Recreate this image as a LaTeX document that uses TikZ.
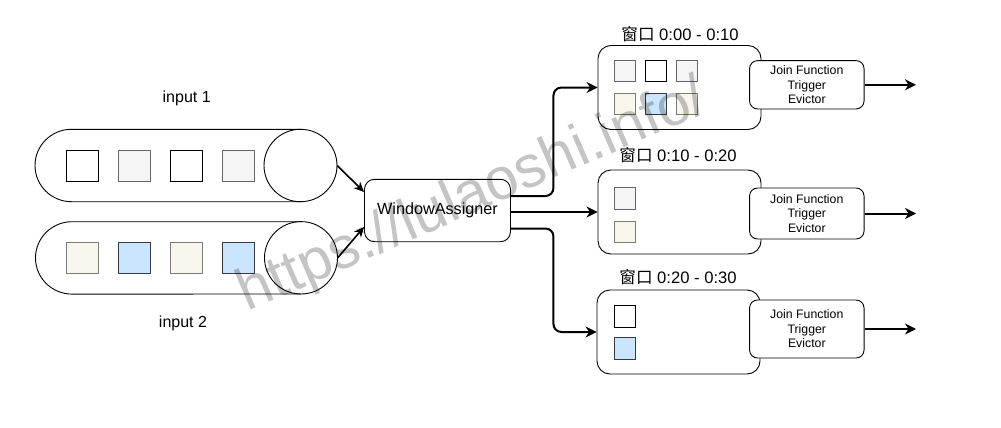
\documentclass[tikz,border=0pt]{standalone}
\usepackage{fontspec}
\setmainfont{Liberation Sans}
\newfontfamily\cjk{Noto Sans CJK SC}
\usetikzlibrary{arrows.meta,calc}
\definecolor{grayfill}{HTML}{F5F5F5}
\definecolor{graydraw}{HTML}{666666}
\definecolor{beigefill}{HTML}{F9F7ED}
\definecolor{beigedraw}{HTML}{7A7A7A}
\definecolor{bluefill}{HTML}{CCE5FF}
\definecolor{bluedraw}{HTML}{36393D}
\tikzset{
  bigsq/.style={draw, minimum width=32pt, minimum height=31pt, inner sep=0pt, line width=0.9pt},
  smallsq/.style={draw, minimum width=21.5pt, minimum height=21.5pt, inner sep=0pt, line width=0.9pt},
  wsq/.style={fill=white, draw=black},
  gsq/.style={fill=grayfill, draw=graydraw},
  esq/.style={fill=beigefill, draw=beigedraw},
  lsq/.style={fill=bluefill, draw=bluedraw},
  cylbox/.style={draw=none, minimum width=302pt, minimum height=72.4pt, inner sep=0pt},
  cylline/.style={line width=0.9pt},
  wabox/.style={draw, rounded corners=10pt, line width=0.9pt, minimum width=146pt, minimum height=62.4pt, inner sep=0pt, font=\fontsize{16.2}{19}\selectfont},
  winbox/.style={draw, rounded corners=13pt, line width=0.9pt, minimum width=163pt, minimum height=84pt, inner sep=0pt},
  joinbox/.style={draw, fill=white, rounded corners=8pt, line width=0.9pt, minimum width=114.5pt, inner sep=0pt, align=center, font=\fontsize{12.3}{14.5}\selectfont},
  lbl/.style={inner sep=0pt, font=\fontsize{16}{19}\selectfont},
  winlbl/.style={inner sep=0pt, font=\fontsize{16.6}{19}\selectfont},
  arr/.style={-{Stealth[length=11pt,width=11pt,inset=3.5pt]}, line width=2pt},
  inarr/.style={-{Stealth[length=10pt,width=9pt,inset=3pt]}, line width=1.6pt},
  wmark/.style={inner sep=0pt, text=black, text opacity=0.23, font=\fontsize{59}{60}\selectfont}
}
\begin{document}
\begin{tikzpicture}[x=1pt,y=-1pt]
\useasboundingbox (0,0) rectangle (1001,428);
\fill[white] (0,0) rectangle (1001,428);

% input cylinders
\node[cylbox] (cyl1) at (186,165.5) {};
\draw[cylline] (300.5,129.3) -- (71.5,129.3) arc[start angle=90,end angle=270,x radius=36.5pt,y radius=36.2pt] -- (300.5,201.7);
\draw[cylline] (300.5,165.5) ellipse [x radius=36.5pt, y radius=36.2pt];
\node[bigsq,wsq] (a1) at (82,165.5) {};
\node[bigsq,gsq] (a2) at (134,165.5) {};
\node[bigsq,wsq] (a3) at (186,165.5) {};
\node[bigsq,gsq] (a4) at (238,165.5) {};

\node[cylbox] (cyl2) at (186.5,257.8) {};
\draw[cylline] (301,221.7) -- (72,221.7) arc[start angle=90,end angle=270,x radius=36.5pt,y radius=36.2pt] -- (301,294);
\draw[cylline] (301,257.8) ellipse [x radius=36.5pt, y radius=36.2pt];
\node[bigsq,esq] (b1) at (82,257.7) {};
\node[bigsq,lsq] (b2) at (134,257.7) {};
\node[bigsq,esq] (b3) at (186,257.7) {};
\node[bigsq,lsq] (b4) at (238,257.7) {};

\node[lbl] (in1) at (186.7,98) {input 1};
\node[lbl] (in2) at (183,323) {input 2};

% window assigner
\node[wabox] (wa) at (437.5,210.5) {WindowAssigner};

% windows
\node[winbox] (win1) at (679.5,87.5) {};
\node[winbox] (win2) at (679.5,212) {};
\node[winbox] (win3) at (678.5,332) {};

\node[winlbl] (l1) at (680,34) {{\cjk 窗口} 0:00 - 0:10};
\node[winlbl] (l2) at (678,155.5) {{\cjk 窗口} 0:10 - 0:20};
\node[winlbl] (l3) at (678,277) {{\cjk 窗口} 0:20 - 0:30};

% window contents
\node[smallsq,gsq] (w11) at (624.8,71) {};
\node[smallsq,wsq] (w12) at (655.8,71) {};
\node[smallsq,gsq] (w13) at (686.8,71) {};
\node[smallsq,esq] (w14) at (624.8,104) {};
\node[smallsq,lsq] (w15) at (655.8,104) {};
\node[smallsq,esq] (w16) at (686.8,104) {};

\node[smallsq,gsq] (w21) at (624.8,198.5) {};
\node[smallsq,esq] (w22) at (624.8,232) {};

\node[smallsq,wsq] (w31) at (624.8,316.4) {};
\node[smallsq,lsq] (w32) at (624.8,348.5) {};

% join boxes
\node[joinbox, minimum height=48.3pt] (j1) at (806.8,84.8) {Join Function\\Trigger\\Evictor};
\node[joinbox, minimum height=51pt] (j2) at (806.8,213.5) {Join Function\\Trigger\\Evictor};
\node[joinbox, minimum height=58pt] (j3) at (806.8,329) {Join Function\\Trigger\\Evictor};

\coordinate (o1) at (916,84);
\coordinate (o2) at (916,212.5);
\coordinate (o3) at (916,331.5);

% connectors
\draw[inarr] (cyl1.east) -- ($(wa.west)+(0,-18.5)$);
\draw[inarr] (cyl2.east) -- ($(wa.west)+(0,16.5)$);

\draw[arr, rounded corners=8pt] ($(wa.east)+(0,-14.5)$) -- ++(42.5,0) |- (win1.west);
\draw[arr] ($(wa.east)+(0,1.5)$) -- (win2.west);
\draw[arr, rounded corners=8pt] ($(wa.east)+(0,18)$) -- ++(42.5,0) |- (win3.west);

\draw[arr] (j1.east) -- (j1.east -| o1);
\draw[arr] (j2.east) -- (j2.east -| o2);
\draw[arr] (j3.east) -- (j3.east -| o3);

% watermark
\node[wmark, rotate=23.5, anchor=base west] (wm) at (247,312) {https://lulaoshi.info/};
\end{tikzpicture}
\end{document}
